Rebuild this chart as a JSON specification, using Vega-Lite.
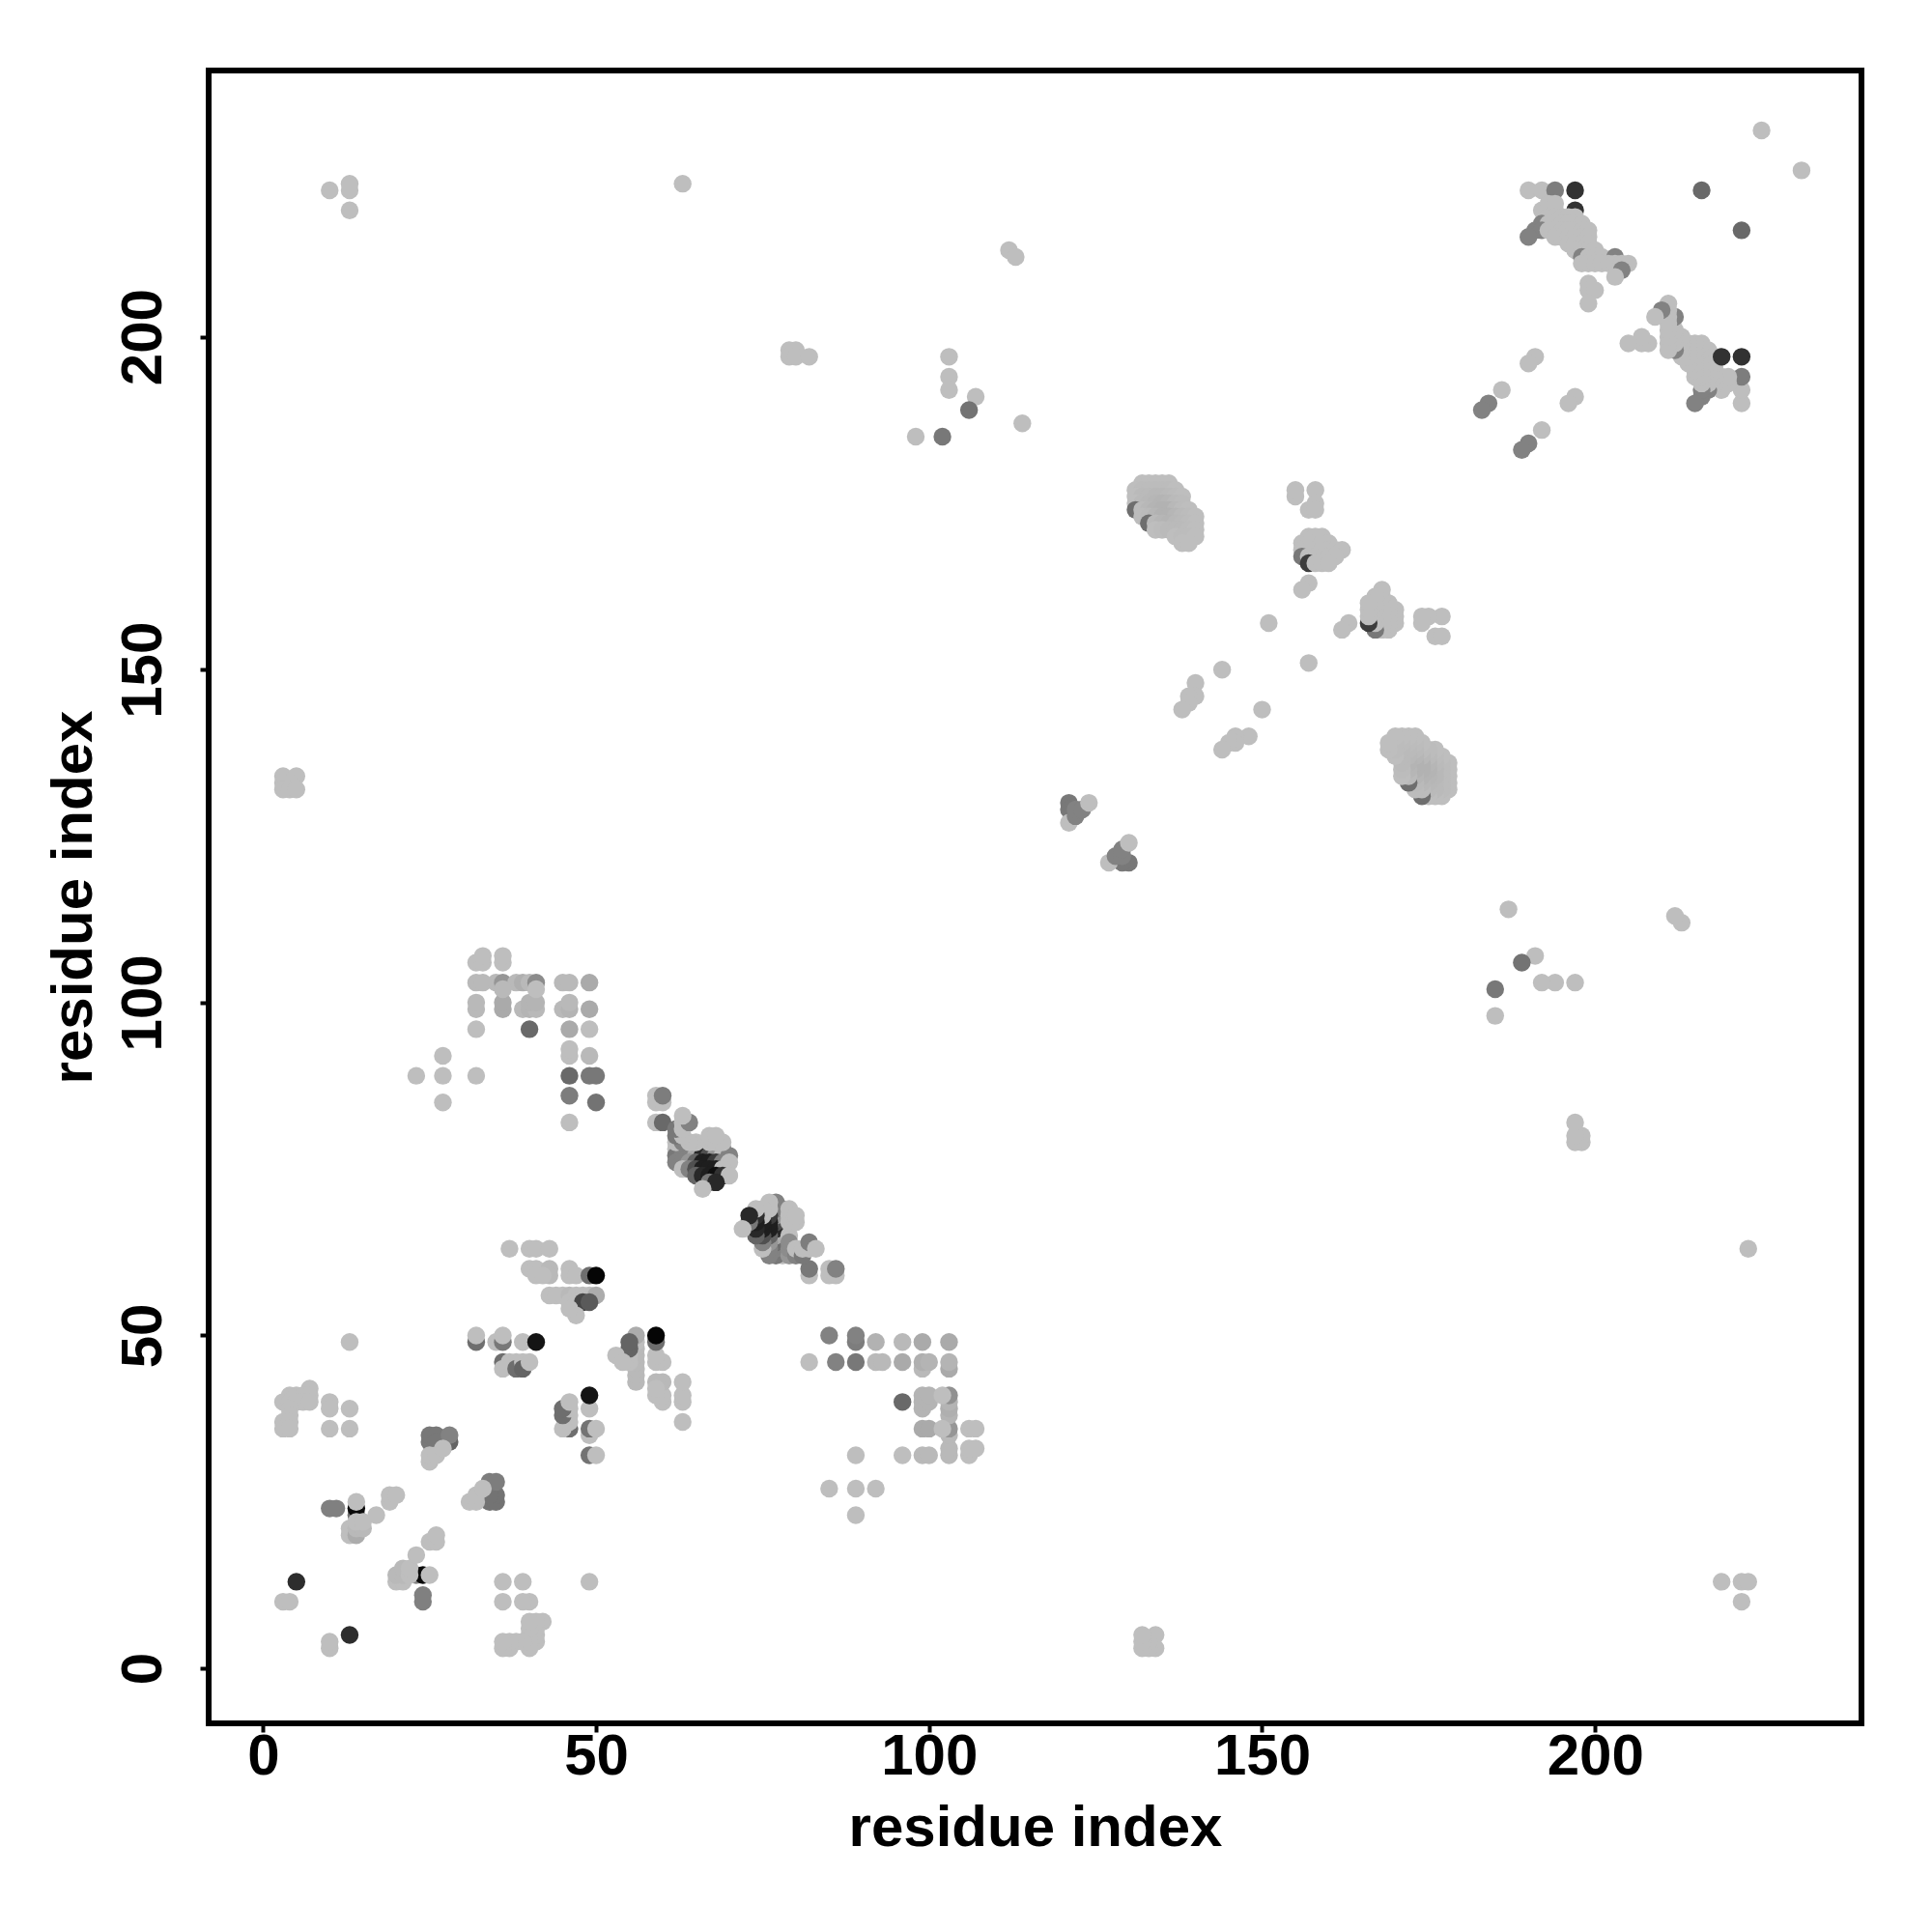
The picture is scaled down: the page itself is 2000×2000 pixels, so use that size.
{"$schema":"https://vega.github.io/schema/vega-lite/v6.json","width":1711,"height":1711,"autosize":{"type":"none"},"padding":{"left":216,"top":73,"right":73,"bottom":216},"background":"white","view":{"stroke":"black","strokeWidth":6},"config":{"font":"Liberation Sans"},"data":{"values":[
{"x":5,"y":13,"g":45},{"x":13,"y":5,"g":45},{"x":3,"y":10,"g":190},{"x":10,"y":3,"g":190},{"x":4,"y":10,"g":190},{"x":10,"y":4,"g":190},{"x":13,"y":49,"g":190},{"x":49,"y":13,"g":190},
{"x":7,"y":42,"g":190},{"x":42,"y":7,"g":190},{"x":4,"y":41,"g":190},{"x":41,"y":4,"g":190},{"x":5,"y":41,"g":190},{"x":41,"y":5,"g":190},{"x":6,"y":41,"g":190},{"x":41,"y":6,"g":190},{"x":7,"y":41,"g":190},{"x":41,"y":7,"g":190},
{"x":3,"y":40,"g":190},{"x":40,"y":3,"g":190},{"x":4,"y":40,"g":190},{"x":40,"y":4,"g":190},{"x":5,"y":40,"g":190},{"x":40,"y":5,"g":190},{"x":6,"y":40,"g":190},{"x":40,"y":6,"g":190},{"x":7,"y":40,"g":190},{"x":40,"y":7,"g":190},
{"x":4,"y":39,"g":190},{"x":39,"y":4,"g":190},{"x":4,"y":38,"g":190},{"x":38,"y":4,"g":190},{"x":3,"y":37,"g":190},{"x":37,"y":3,"g":190},{"x":4,"y":37,"g":190},{"x":37,"y":4,"g":190},{"x":3,"y":36,"g":190},{"x":36,"y":3,"g":190},{"x":4,"y":36,"g":190},{"x":36,"y":4,"g":190},
{"x":10,"y":40,"g":190},{"x":40,"y":10,"g":190},{"x":10,"y":39,"g":190},{"x":39,"y":10,"g":190},{"x":10,"y":36,"g":190},{"x":36,"y":10,"g":190},{"x":13,"y":39,"g":190},{"x":39,"y":13,"g":190},{"x":13,"y":36,"g":190},{"x":36,"y":13,"g":190},
{"x":10,"y":24,"g":128},{"x":24,"y":10,"g":128},{"x":11,"y":24,"g":128},{"x":24,"y":11,"g":128},{"x":14,"y":23,"g":110},{"x":23,"y":14,"g":130},{"x":14,"y":24,"g":10},{"x":24,"y":14,"g":10},{"x":14,"y":25,"g":190},{"x":25,"y":14,"g":190},
{"x":13,"y":20,"g":190},{"x":20,"y":13,"g":190},{"x":13,"y":21,"g":190},{"x":21,"y":13,"g":190},{"x":14,"y":20,"g":172},{"x":20,"y":14,"g":185},{"x":14,"y":21,"g":185},{"x":21,"y":14,"g":185},{"x":15,"y":21,"g":185},{"x":21,"y":15,"g":185},{"x":14,"y":22,"g":190},{"x":22,"y":14,"g":190},{"x":15,"y":22,"g":190},{"x":22,"y":15,"g":190},
{"x":17,"y":23,"g":190},{"x":23,"y":17,"g":190},{"x":19,"y":25,"g":190},{"x":25,"y":19,"g":190},{"x":19,"y":26,"g":190},{"x":26,"y":19,"g":190},{"x":20,"y":26,"g":190},{"x":26,"y":20,"g":190},
{"x":25,"y":34,"g":120},{"x":34,"y":25,"g":115},{"x":25,"y":35,"g":120},{"x":35,"y":25,"g":115},{"x":26,"y":35,"g":120},{"x":35,"y":26,"g":115},{"x":34,"y":26,"g":115},{"x":26,"y":34,"g":120},{"x":28,"y":34,"g":100},{"x":34,"y":28,"g":125},{"x":28,"y":35,"g":130},{"x":35,"y":28,"g":125},
{"x":25,"y":31,"g":190},{"x":31,"y":25,"g":190},{"x":25,"y":32,"g":190},{"x":32,"y":25,"g":190},{"x":26,"y":32,"g":190},{"x":32,"y":26,"g":190},{"x":27,"y":33,"g":190},{"x":33,"y":27,"g":190},
{"x":32,"y":49,"g":110},{"x":49,"y":32,"g":115},{"x":32,"y":50,"g":190},{"x":50,"y":32,"g":190},{"x":35,"y":49,"g":190},{"x":49,"y":35,"g":190},{"x":36,"y":49,"g":120},{"x":49,"y":36,"g":115},{"x":36,"y":50,"g":190},{"x":50,"y":36,"g":190},{"x":39,"y":49,"g":190},{"x":49,"y":39,"g":190},{"x":41,"y":49,"g":20},{"x":49,"y":41,"g":20},
{"x":36,"y":46,"g":110},{"x":46,"y":36,"g":110},{"x":36,"y":45,"g":190},{"x":45,"y":36,"g":190},{"x":37,"y":46,"g":190},{"x":46,"y":37,"g":190},{"x":38,"y":46,"g":190},{"x":46,"y":38,"g":190},{"x":38,"y":45,"g":110},{"x":45,"y":38,"g":110},{"x":39,"y":46,"g":190},{"x":46,"y":39,"g":190},{"x":39,"y":45,"g":100},{"x":45,"y":39,"g":110},{"x":40,"y":46,"g":190},{"x":46,"y":40,"g":190},
{"x":37,"y":63,"g":190},{"x":63,"y":37,"g":190},{"x":40,"y":63,"g":190},{"x":63,"y":40,"g":190},{"x":41,"y":63,"g":190},{"x":63,"y":41,"g":190},{"x":43,"y":63,"g":190},{"x":63,"y":43,"g":190},{"x":40,"y":60,"g":190},{"x":60,"y":40,"g":190},{"x":41,"y":60,"g":190},{"x":60,"y":41,"g":190},{"x":43,"y":60,"g":185},{"x":60,"y":43,"g":185},{"x":43,"y":59,"g":185},{"x":59,"y":43,"g":185},{"x":46,"y":60,"g":190},{"x":60,"y":46,"g":190},{"x":46,"y":59,"g":190},{"x":59,"y":46,"g":190},{"x":41,"y":59,"g":190},{"x":59,"y":41,"g":190},{"x":42,"y":59,"g":190},{"x":59,"y":42,"g":190},{"x":47,"y":59,"g":190},{"x":59,"y":47,"g":190},{"x":49,"y":59,"g":110},{"x":59,"y":49,"g":110},{"x":50,"y":59,"g":5},{"x":59,"y":50,"g":5},
{"x":43,"y":56,"g":190},{"x":56,"y":43,"g":185},{"x":44,"y":56,"g":190},{"x":56,"y":44,"g":185},{"x":45,"y":56,"g":190},{"x":56,"y":45,"g":185},{"x":46,"y":56,"g":185},{"x":56,"y":46,"g":185},{"x":47,"y":56,"g":190},{"x":56,"y":47,"g":185},{"x":48,"y":56,"g":190},{"x":56,"y":48,"g":185},{"x":49,"y":56,"g":190},{"x":56,"y":49,"g":190},{"x":50,"y":56,"g":172},{"x":56,"y":50,"g":172},{"x":46,"y":55,"g":190},{"x":55,"y":46,"g":190},{"x":47,"y":55,"g":190},{"x":55,"y":47,"g":190},{"x":48,"y":55,"g":70},{"x":55,"y":48,"g":100},{"x":49,"y":55,"g":90},{"x":55,"y":49,"g":100},{"x":47,"y":53,"g":190},{"x":53,"y":47,"g":190},{"x":46,"y":54,"g":190},{"x":54,"y":46,"g":190},
{"x":27,"y":85,"g":190},{"x":85,"y":27,"g":190},{"x":27,"y":89,"g":190},{"x":89,"y":27,"g":190},{"x":27,"y":92,"g":190},{"x":92,"y":27,"g":190},{"x":23,"y":89,"g":190},{"x":89,"y":23,"g":190},{"x":32,"y":89,"g":190},{"x":89,"y":32,"g":190},{"x":46,"y":82,"g":190},{"x":82,"y":46,"g":190},{"x":46,"y":86,"g":125},{"x":86,"y":46,"g":130},{"x":46,"y":89,"g":105},{"x":89,"y":46,"g":120},{"x":46,"y":92,"g":190},{"x":92,"y":46,"g":185},{"x":46,"y":93,"g":190},{"x":93,"y":46,"g":185},{"x":49,"y":92,"g":185},{"x":92,"y":49,"g":178},{"x":49,"y":89,"g":120},{"x":89,"y":49,"g":125},{"x":50,"y":89,"g":120},{"x":89,"y":50,"g":130},{"x":50,"y":85,"g":115},{"x":85,"y":50,"g":130},
{"x":59,"y":82,"g":190},{"x":82,"y":59,"g":190},{"x":60,"y":82,"g":105},{"x":82,"y":60,"g":120},{"x":59,"y":85,"g":190},{"x":85,"y":59,"g":190},{"x":59,"y":86,"g":190},{"x":86,"y":59,"g":190},{"x":60,"y":85,"g":190},{"x":85,"y":60,"g":190},{"x":60,"y":86,"g":125},{"x":86,"y":60,"g":130},
{"x":32,"y":96,"g":190},{"x":96,"y":32,"g":190},{"x":40,"y":96,"g":105},{"x":96,"y":40,"g":105},{"x":46,"y":96,"g":170},{"x":96,"y":46,"g":170},{"x":49,"y":96,"g":190},{"x":96,"y":49,"g":185},{"x":32,"y":99,"g":185},{"x":99,"y":32,"g":185},{"x":32,"y":100,"g":185},{"x":100,"y":32,"g":185},{"x":36,"y":99,"g":170},{"x":99,"y":36,"g":170},{"x":36,"y":100,"g":170},{"x":100,"y":36,"g":170},{"x":39,"y":99,"g":185},{"x":99,"y":39,"g":180},{"x":40,"y":99,"g":180},{"x":99,"y":40,"g":180},{"x":41,"y":99,"g":185},{"x":99,"y":41,"g":180},{"x":40,"y":100,"g":180},{"x":100,"y":40,"g":180},{"x":41,"y":100,"g":180},{"x":100,"y":41,"g":180},{"x":45,"y":99,"g":185},{"x":99,"y":45,"g":185},{"x":46,"y":99,"g":180},{"x":99,"y":46,"g":175},{"x":46,"y":100,"g":185},{"x":100,"y":46,"g":180},{"x":49,"y":99,"g":170},{"x":99,"y":49,"g":170},
{"x":32,"y":103,"g":185},{"x":103,"y":32,"g":185},{"x":33,"y":103,"g":185},{"x":103,"y":33,"g":185},{"x":35,"y":103,"g":185},{"x":103,"y":35,"g":185},{"x":36,"y":103,"g":150},{"x":103,"y":36,"g":150},{"x":38,"y":103,"g":185},{"x":103,"y":38,"g":180},{"x":39,"y":103,"g":175},{"x":103,"y":39,"g":175},{"x":40,"y":103,"g":185},{"x":103,"y":40,"g":180},{"x":41,"y":103,"g":140},{"x":103,"y":41,"g":145},{"x":45,"y":103,"g":185},{"x":103,"y":45,"g":170},{"x":46,"y":103,"g":185},{"x":103,"y":46,"g":180},{"x":49,"y":103,"g":170},{"x":103,"y":49,"g":170},{"x":36,"y":102,"g":185},{"x":102,"y":36,"g":190},{"x":41,"y":102,"g":190},{"x":102,"y":41,"g":190},{"x":32,"y":106,"g":190},{"x":106,"y":32,"g":190},{"x":33,"y":106,"g":190},{"x":106,"y":33,"g":190},{"x":36,"y":106,"g":190},{"x":106,"y":36,"g":190},{"x":33,"y":107,"g":190},{"x":107,"y":33,"g":190},{"x":36,"y":107,"g":190},{"x":107,"y":36,"g":190},
{"x":62,"y":78,"g":190},{"x":78,"y":62,"g":190},{"x":63,"y":78,"g":130},{"x":78,"y":63,"g":130},{"x":64,"y":78,"g":130},{"x":78,"y":64,"g":130},{"x":65,"y":78,"g":190},{"x":78,"y":65,"g":190},{"x":66,"y":78,"g":100},{"x":78,"y":66,"g":100},{"x":67,"y":78,"g":130},{"x":78,"y":67,"g":130},{"x":68,"y":78,"g":190},{"x":78,"y":68,"g":190},{"x":69,"y":78,"g":130},{"x":78,"y":69,"g":130},
{"x":62,"y":77,"g":120},{"x":77,"y":62,"g":120},{"x":63,"y":77,"g":130},{"x":77,"y":63,"g":130},{"x":64,"y":77,"g":130},{"x":77,"y":64,"g":110},{"x":65,"y":77,"g":170},{"x":77,"y":65,"g":170},{"x":66,"y":77,"g":40},{"x":77,"y":66,"g":40},{"x":67,"y":77,"g":80},{"x":77,"y":67,"g":80},{"x":68,"y":77,"g":150},{"x":77,"y":68,"g":150},{"x":69,"y":77,"g":190},{"x":77,"y":69,"g":130},{"x":70,"y":77,"g":130},{"x":77,"y":70,"g":130},
{"x":62,"y":76,"g":130},{"x":76,"y":62,"g":130},{"x":63,"y":76,"g":130},{"x":76,"y":63,"g":130},{"x":64,"y":76,"g":150},{"x":76,"y":64,"g":150},{"x":65,"y":76,"g":100},{"x":76,"y":65,"g":100},{"x":66,"y":76,"g":30},{"x":76,"y":66,"g":30},{"x":67,"y":76,"g":30},{"x":76,"y":67,"g":30},{"x":68,"y":76,"g":60},{"x":76,"y":68,"g":60},{"x":69,"y":76,"g":130},{"x":76,"y":69,"g":190},{"x":70,"y":76,"g":190},{"x":76,"y":70,"g":190},
{"x":63,"y":75,"g":190},{"x":75,"y":63,"g":190},{"x":64,"y":75,"g":130},{"x":75,"y":64,"g":130},{"x":65,"y":75,"g":80},{"x":75,"y":65,"g":80},{"x":66,"y":75,"g":30},{"x":75,"y":66,"g":30},{"x":67,"y":75,"g":30},{"x":75,"y":67,"g":30},{"x":68,"y":75,"g":30},{"x":75,"y":68,"g":190},{"x":69,"y":75,"g":190},{"x":75,"y":69,"g":190},
{"x":65,"y":74,"g":100},{"x":74,"y":65,"g":100},{"x":66,"y":74,"g":40},{"x":74,"y":66,"g":40},{"x":67,"y":74,"g":30},{"x":74,"y":67,"g":30},{"x":68,"y":74,"g":15},{"x":74,"y":68,"g":45},{"x":69,"y":74,"g":50},{"x":74,"y":69,"g":190},{"x":70,"y":74,"g":190},{"x":67,"y":73,"g":120},{"x":73,"y":67,"g":120},{"x":68,"y":73,"g":40},{"x":73,"y":68,"g":40},{"x":66,"y":72,"g":190},{"x":72,"y":66,"g":190},
{"x":65,"y":79,"g":190},{"x":79,"y":65,"g":190},{"x":67,"y":79,"g":190},{"x":79,"y":67,"g":190},{"x":68,"y":79,"g":190},{"x":79,"y":68,"g":190},{"x":69,"y":79,"g":190},{"x":79,"y":69,"g":190},{"x":62,"y":79,"g":190},{"x":79,"y":62,"g":150},{"x":63,"y":79,"g":130},{"x":79,"y":63,"g":140},{"x":64,"y":79,"g":190},{"x":79,"y":64,"g":140},{"x":67,"y":80,"g":190},{"x":80,"y":67,"g":190},{"x":68,"y":80,"g":190},{"x":80,"y":68,"g":190},{"x":62,"y":80,"g":120},{"x":80,"y":62,"g":130},{"x":63,"y":80,"g":190},{"x":80,"y":63,"g":190},{"x":62,"y":81,"g":120},{"x":81,"y":62,"g":120},{"x":63,"y":81,"g":190},{"x":81,"y":63,"g":190},{"x":63,"y":82,"g":190},{"x":82,"y":63,"g":190},{"x":64,"y":82,"g":130},{"x":82,"y":64,"g":125},{"x":63,"y":83,"g":190},{"x":83,"y":63,"g":190},
{"x":190,"y":222,"g":190},{"x":222,"y":190,"g":190},{"x":192,"y":222,"g":190},{"x":222,"y":192,"g":190},{"x":194,"y":222,"g":125},{"x":222,"y":194,"g":125},{"x":197,"y":222,"g":50},{"x":216,"y":222,"g":105},{"x":222,"y":216,"g":105},{"x":197,"y":219,"g":50},{"x":192,"y":219,"g":190},{"x":219,"y":192,"g":190},{"x":193,"y":219,"g":190},{"x":219,"y":193,"g":190},{"x":194,"y":219,"g":190},{"x":219,"y":194,"g":190},{"x":220,"y":193,"g":190},{"x":193,"y":220,"g":190},{"x":220,"y":194,"g":190},{"x":194,"y":220,"g":190},
{"x":193,"y":218,"g":190},{"x":218,"y":193,"g":190},{"x":194,"y":218,"g":190},{"x":218,"y":194,"g":190},{"x":195,"y":218,"g":190},{"x":218,"y":195,"g":190},{"x":196,"y":218,"g":190},{"x":218,"y":196,"g":190},{"x":197,"y":218,"g":190},{"x":218,"y":197,"g":190},
{"x":192,"y":217,"g":130},{"x":217,"y":192,"g":130},{"x":193,"y":217,"g":190},{"x":217,"y":193,"g":190},{"x":194,"y":217,"g":190},{"x":217,"y":194,"g":190},{"x":195,"y":217,"g":190},{"x":217,"y":195,"g":190},{"x":196,"y":217,"g":190},{"x":217,"y":196,"g":190},{"x":197,"y":217,"g":190},{"x":217,"y":197,"g":190},{"x":198,"y":217,"g":190},{"x":217,"y":198,"g":190},
{"x":191,"y":216,"g":130},{"x":216,"y":191,"g":130},{"x":192,"y":216,"g":130},{"x":216,"y":192,"g":130},{"x":193,"y":216,"g":190},{"x":216,"y":193,"g":190},{"x":194,"y":216,"g":190},{"x":216,"y":194,"g":190},{"x":195,"y":216,"g":190},{"x":216,"y":195,"g":190},{"x":196,"y":216,"g":190},{"x":216,"y":196,"g":190},{"x":197,"y":216,"g":190},{"x":216,"y":197,"g":190},{"x":198,"y":216,"g":190},{"x":216,"y":198,"g":190},{"x":199,"y":216,"g":190},{"x":216,"y":199,"g":190},
{"x":190,"y":215,"g":130},{"x":215,"y":190,"g":130},{"x":194,"y":215,"g":190},{"x":215,"y":194,"g":190},{"x":195,"y":215,"g":190},{"x":215,"y":195,"g":190},{"x":196,"y":215,"g":190},{"x":215,"y":196,"g":190},{"x":197,"y":215,"g":190},{"x":215,"y":197,"g":190},{"x":198,"y":215,"g":190},{"x":215,"y":198,"g":190},{"x":199,"y":215,"g":190},{"x":215,"y":199,"g":190},
{"x":196,"y":214,"g":190},{"x":214,"y":196,"g":190},{"x":197,"y":214,"g":190},{"x":214,"y":197,"g":190},{"x":198,"y":214,"g":190},{"x":214,"y":198,"g":190},{"x":199,"y":214,"g":190},{"x":214,"y":199,"g":190},{"x":197,"y":213,"g":190},{"x":213,"y":197,"g":190},{"x":198,"y":213,"g":190},{"x":213,"y":198,"g":190},{"x":199,"y":213,"g":190},{"x":213,"y":199,"g":190},{"x":200,"y":213,"g":190},{"x":213,"y":200,"g":190},
{"x":198,"y":212,"g":130},{"x":212,"y":198,"g":130},{"x":199,"y":212,"g":190},{"x":212,"y":199,"g":190},{"x":200,"y":212,"g":190},{"x":212,"y":200,"g":190},{"x":201,"y":212,"g":190},{"x":212,"y":201,"g":190},{"x":203,"y":212,"g":130},{"x":212,"y":203,"g":130},{"x":198,"y":211,"g":190},{"x":211,"y":198,"g":190},{"x":199,"y":211,"g":190},{"x":211,"y":199,"g":190},{"x":200,"y":211,"g":190},{"x":211,"y":200,"g":190},{"x":201,"y":211,"g":190},{"x":211,"y":201,"g":190},{"x":202,"y":211,"g":190},{"x":211,"y":202,"g":190},{"x":203,"y":211,"g":190},{"x":211,"y":203,"g":190},{"x":204,"y":211,"g":190},{"x":211,"y":204,"g":190},{"x":205,"y":211,"g":190},{"x":211,"y":205,"g":190},{"x":204,"y":210,"g":130},{"x":210,"y":204,"g":130},{"x":203,"y":209,"g":190},{"x":209,"y":203,"g":190},
{"x":199,"y":208,"g":190},{"x":208,"y":199,"g":190},{"x":199,"y":207,"g":190},{"x":207,"y":199,"g":190},{"x":200,"y":207,"g":190},{"x":207,"y":200,"g":190},{"x":199,"y":205,"g":190},{"x":205,"y":199,"g":190},{"x":191,"y":197,"g":190},{"x":197,"y":191,"g":190},{"x":190,"y":196,"g":190},{"x":196,"y":190,"g":190},{"x":186,"y":192,"g":190},{"x":192,"y":186,"g":190},{"x":184,"y":190,"g":130},{"x":190,"y":184,"g":130},{"x":183,"y":189,"g":130},{"x":189,"y":183,"g":130},
{"x":225,"y":231,"g":190},{"x":231,"y":225,"g":190},{"x":10,"y":222,"g":190},{"x":222,"y":10,"g":190},{"x":13,"y":222,"g":190},{"x":222,"y":13,"g":190},{"x":13,"y":223,"g":190},{"x":223,"y":13,"g":190},{"x":13,"y":219,"g":190},{"x":219,"y":13,"g":190},{"x":63,"y":223,"g":190},{"x":223,"y":63,"g":190},{"x":112,"y":213,"g":190},{"x":213,"y":112,"g":190},{"x":113,"y":212,"g":190},{"x":212,"y":113,"g":190},{"x":79,"y":198,"g":190},{"x":198,"y":79,"g":190},{"x":80,"y":198,"g":190},{"x":198,"y":80,"g":190},{"x":79,"y":197,"g":190},{"x":197,"y":79,"g":190},{"x":80,"y":197,"g":190},{"x":197,"y":80,"g":190},{"x":82,"y":197,"g":190},{"x":197,"y":82,"g":190},{"x":103,"y":197,"g":190},{"x":197,"y":103,"g":190},{"x":103,"y":194,"g":190},{"x":194,"y":103,"g":190},{"x":103,"y":192,"g":190},{"x":192,"y":103,"g":190},{"x":107,"y":191,"g":190},{"x":191,"y":107,"g":190},{"x":106,"y":189,"g":115},{"x":189,"y":106,"g":115},{"x":98,"y":185,"g":190},{"x":185,"y":98,"g":190},{"x":102,"y":185,"g":120},{"x":185,"y":102,"g":120},{"x":114,"y":187,"g":190},{"x":187,"y":114,"g":190},
{"x":3,"y":134,"g":190},{"x":134,"y":3,"g":190},{"x":5,"y":134,"g":190},{"x":134,"y":5,"g":190},{"x":3,"y":133,"g":190},{"x":133,"y":3,"g":190},{"x":4,"y":133,"g":190},{"x":133,"y":4,"g":190},{"x":3,"y":132,"g":190},{"x":132,"y":3,"g":190},{"x":4,"y":132,"g":190},{"x":132,"y":4,"g":190},{"x":5,"y":132,"g":190},{"x":132,"y":5,"g":190},
{"x":132,"y":178,"g":190},{"x":178,"y":132,"g":190},{"x":133,"y":178,"g":190},{"x":178,"y":133,"g":190},{"x":134,"y":178,"g":190},{"x":178,"y":134,"g":190},{"x":135,"y":178,"g":190},{"x":178,"y":135,"g":190},{"x":136,"y":178,"g":190},{"x":178,"y":136,"g":190},
{"x":131,"y":177,"g":190},{"x":177,"y":131,"g":190},{"x":132,"y":177,"g":188},{"x":177,"y":132,"g":188},{"x":133,"y":177,"g":188},{"x":177,"y":133,"g":188},{"x":134,"y":177,"g":188},{"x":177,"y":134,"g":188},{"x":135,"y":177,"g":188},{"x":177,"y":135,"g":188},{"x":136,"y":177,"g":188},{"x":177,"y":136,"g":188},{"x":137,"y":177,"g":190},{"x":177,"y":137,"g":190},
{"x":131,"y":176,"g":190},{"x":176,"y":131,"g":190},{"x":132,"y":176,"g":186},{"x":176,"y":132,"g":186},{"x":133,"y":176,"g":186},{"x":176,"y":133,"g":186},{"x":134,"y":176,"g":184},{"x":176,"y":134,"g":184},{"x":135,"y":176,"g":184},{"x":176,"y":135,"g":184},{"x":136,"y":176,"g":186},{"x":176,"y":136,"g":186},{"x":137,"y":176,"g":188},{"x":176,"y":137,"g":188},{"x":138,"y":176,"g":190},{"x":176,"y":138,"g":190},
{"x":131,"y":175,"g":190},{"x":175,"y":131,"g":190},{"x":132,"y":175,"g":186},{"x":175,"y":132,"g":186},{"x":133,"y":175,"g":184},{"x":175,"y":133,"g":184},{"x":134,"y":175,"g":182},{"x":175,"y":134,"g":182},{"x":135,"y":175,"g":180},{"x":175,"y":135,"g":180},{"x":136,"y":175,"g":182},{"x":175,"y":136,"g":182},{"x":137,"y":175,"g":186},{"x":175,"y":137,"g":186},{"x":138,"y":175,"g":188},{"x":175,"y":138,"g":188},
{"x":131,"y":174,"g":110},{"x":174,"y":131,"g":110},{"x":132,"y":174,"g":188},{"x":174,"y":132,"g":188},{"x":133,"y":174,"g":184},{"x":174,"y":133,"g":184},{"x":134,"y":174,"g":180},{"x":174,"y":134,"g":180},{"x":135,"y":174,"g":178},{"x":174,"y":135,"g":178},{"x":136,"y":174,"g":178},{"x":174,"y":136,"g":178},{"x":137,"y":174,"g":184},{"x":174,"y":137,"g":184},{"x":138,"y":174,"g":188},{"x":174,"y":138,"g":188},{"x":139,"y":174,"g":190},{"x":174,"y":139,"g":190},
{"x":132,"y":173,"g":188},{"x":173,"y":132,"g":188},{"x":133,"y":173,"g":186},{"x":173,"y":133,"g":186},{"x":134,"y":173,"g":182},{"x":173,"y":134,"g":182},{"x":135,"y":173,"g":178},{"x":173,"y":135,"g":178},{"x":136,"y":173,"g":178},{"x":173,"y":136,"g":178},{"x":137,"y":173,"g":182},{"x":173,"y":137,"g":182},{"x":138,"y":173,"g":186},{"x":173,"y":138,"g":186},{"x":139,"y":173,"g":188},{"x":173,"y":139,"g":188},{"x":140,"y":173,"g":190},{"x":173,"y":140,"g":190},
{"x":133,"y":172,"g":110},{"x":172,"y":133,"g":110},{"x":134,"y":172,"g":186},{"x":172,"y":134,"g":186},{"x":135,"y":172,"g":182},{"x":172,"y":135,"g":182},{"x":136,"y":172,"g":180},{"x":172,"y":136,"g":180},{"x":137,"y":172,"g":184},{"x":172,"y":137,"g":184},{"x":138,"y":172,"g":186},{"x":172,"y":138,"g":186},{"x":139,"y":172,"g":188},{"x":172,"y":139,"g":188},{"x":140,"y":172,"g":190},{"x":172,"y":140,"g":190},
{"x":134,"y":171,"g":190},{"x":171,"y":134,"g":190},{"x":135,"y":171,"g":188},{"x":171,"y":135,"g":188},{"x":136,"y":171,"g":186},{"x":171,"y":136,"g":186},{"x":137,"y":171,"g":186},{"x":171,"y":137,"g":186},{"x":138,"y":171,"g":186},{"x":171,"y":138,"g":186},{"x":139,"y":171,"g":188},{"x":171,"y":139,"g":188},{"x":140,"y":171,"g":190},{"x":171,"y":140,"g":190},
{"x":137,"y":170,"g":190},{"x":170,"y":137,"g":190},{"x":138,"y":170,"g":188},{"x":170,"y":138,"g":188},{"x":139,"y":170,"g":188},{"x":170,"y":139,"g":188},{"x":140,"y":170,"g":190},{"x":170,"y":140,"g":190},{"x":138,"y":169,"g":190},{"x":169,"y":138,"g":190},{"x":139,"y":169,"g":190},{"x":169,"y":139,"g":190},
{"x":157,"y":170,"g":190},{"x":170,"y":157,"g":190},{"x":158,"y":170,"g":190},{"x":170,"y":158,"g":190},{"x":159,"y":170,"g":190},{"x":170,"y":159,"g":190},{"x":156,"y":169,"g":190},{"x":169,"y":156,"g":190},{"x":157,"y":169,"g":190},{"x":169,"y":157,"g":190},{"x":158,"y":169,"g":190},{"x":169,"y":158,"g":190},{"x":159,"y":169,"g":190},{"x":169,"y":159,"g":190},{"x":160,"y":169,"g":190},{"x":169,"y":160,"g":190},
{"x":156,"y":168,"g":190},{"x":168,"y":156,"g":190},{"x":157,"y":168,"g":190},{"x":168,"y":157,"g":190},{"x":158,"y":168,"g":190},{"x":168,"y":158,"g":190},{"x":159,"y":168,"g":190},{"x":168,"y":159,"g":190},{"x":160,"y":168,"g":190},{"x":168,"y":160,"g":190},{"x":161,"y":168,"g":190},{"x":168,"y":161,"g":190},{"x":162,"y":168,"g":190},{"x":168,"y":162,"g":190},
{"x":156,"y":167,"g":120},{"x":167,"y":156,"g":120},{"x":157,"y":167,"g":190},{"x":167,"y":157,"g":190},{"x":158,"y":167,"g":190},{"x":167,"y":158,"g":190},{"x":159,"y":167,"g":190},{"x":167,"y":159,"g":190},{"x":160,"y":167,"g":190},{"x":167,"y":160,"g":190},{"x":161,"y":167,"g":190},{"x":167,"y":161,"g":190},
{"x":157,"y":166,"g":60},{"x":166,"y":157,"g":60},{"x":158,"y":166,"g":190},{"x":166,"y":158,"g":190},{"x":159,"y":166,"g":190},{"x":166,"y":159,"g":190},{"x":160,"y":166,"g":190},{"x":166,"y":160,"g":190},
{"x":155,"y":176,"g":190},{"x":176,"y":155,"g":190},{"x":155,"y":177,"g":190},{"x":177,"y":155,"g":190},{"x":158,"y":177,"g":190},{"x":177,"y":158,"g":190},{"x":158,"y":175,"g":190},{"x":175,"y":158,"g":190},{"x":157,"y":174,"g":190},{"x":174,"y":157,"g":190},{"x":158,"y":174,"g":190},{"x":174,"y":158,"g":190},{"x":157,"y":163,"g":190},{"x":163,"y":157,"g":190},{"x":156,"y":162,"g":190},{"x":162,"y":156,"g":190},{"x":151,"y":157,"g":190},{"x":157,"y":151,"g":190},{"x":144,"y":150,"g":190},{"x":150,"y":144,"g":190},{"x":140,"y":148,"g":190},{"x":148,"y":140,"g":190},{"x":140,"y":146,"g":190},{"x":146,"y":140,"g":190},{"x":139,"y":146,"g":190},{"x":146,"y":139,"g":190},{"x":139,"y":145,"g":190},{"x":145,"y":139,"g":190},{"x":138,"y":144,"g":190},{"x":144,"y":138,"g":190},
{"x":121,"y":130,"g":120},{"x":130,"y":121,"g":120},{"x":121,"y":129,"g":120},{"x":129,"y":121,"g":120},{"x":121,"y":127,"g":190},{"x":127,"y":121,"g":190},{"x":122,"y":128,"g":130},{"x":128,"y":122,"g":130},{"x":122,"y":129,"g":130},{"x":129,"y":122,"g":130},{"x":123,"y":129,"g":130},{"x":129,"y":123,"g":130},{"x":124,"y":130,"g":190},{"x":130,"y":124,"g":190},
{"x":219,"y":197,"g":50},{"x":222,"y":197,"g":50}
]},"mark":{"type":"circle","size":339,"opacity":1,"stroke":null},"encoding":{"x":{"field":"x","type":"quantitative","scale":{"domain":[-8.17,240],"nice":false,"zero":false},"axis":{"values":[0,50,100,150,200],"grid":false,"domain":false,"tickColor":"black","tickWidth":4,"tickSize":9,"labelFont":"Liberation Sans","labelFontWeight":"bold","labelFontSize":60,"labelColor":"black","labelPadding":-4,"title":"residue index","titleFont":"Liberation Sans","titleFontWeight":"bold","titleFontSize":60,"titleColor":"black","titlePadding":15}},"y":{"field":"y","type":"quantitative","scale":{"domain":[-8.27,240],"nice":false,"zero":false},"axis":{"values":[0,50,100,150,200],"grid":false,"domain":false,"tickColor":"black","tickWidth":4,"tickSize":9,"labelFont":"Liberation Sans","labelFontWeight":"bold","labelFontSize":60,"labelColor":"black","labelAngle":270,"labelAlign":"center","labelBaseline":"bottom","labelPadding":28,"title":"residue index","titleFont":"Liberation Sans","titleFontWeight":"bold","titleFontSize":60,"titleColor":"black","titlePadding":11}},"color":{"field":"g","type":"quantitative","scale":{"domain":[0,255],"range":["#000000","#ffffff"],"interpolate":"rgb"},"legend":null}}}
